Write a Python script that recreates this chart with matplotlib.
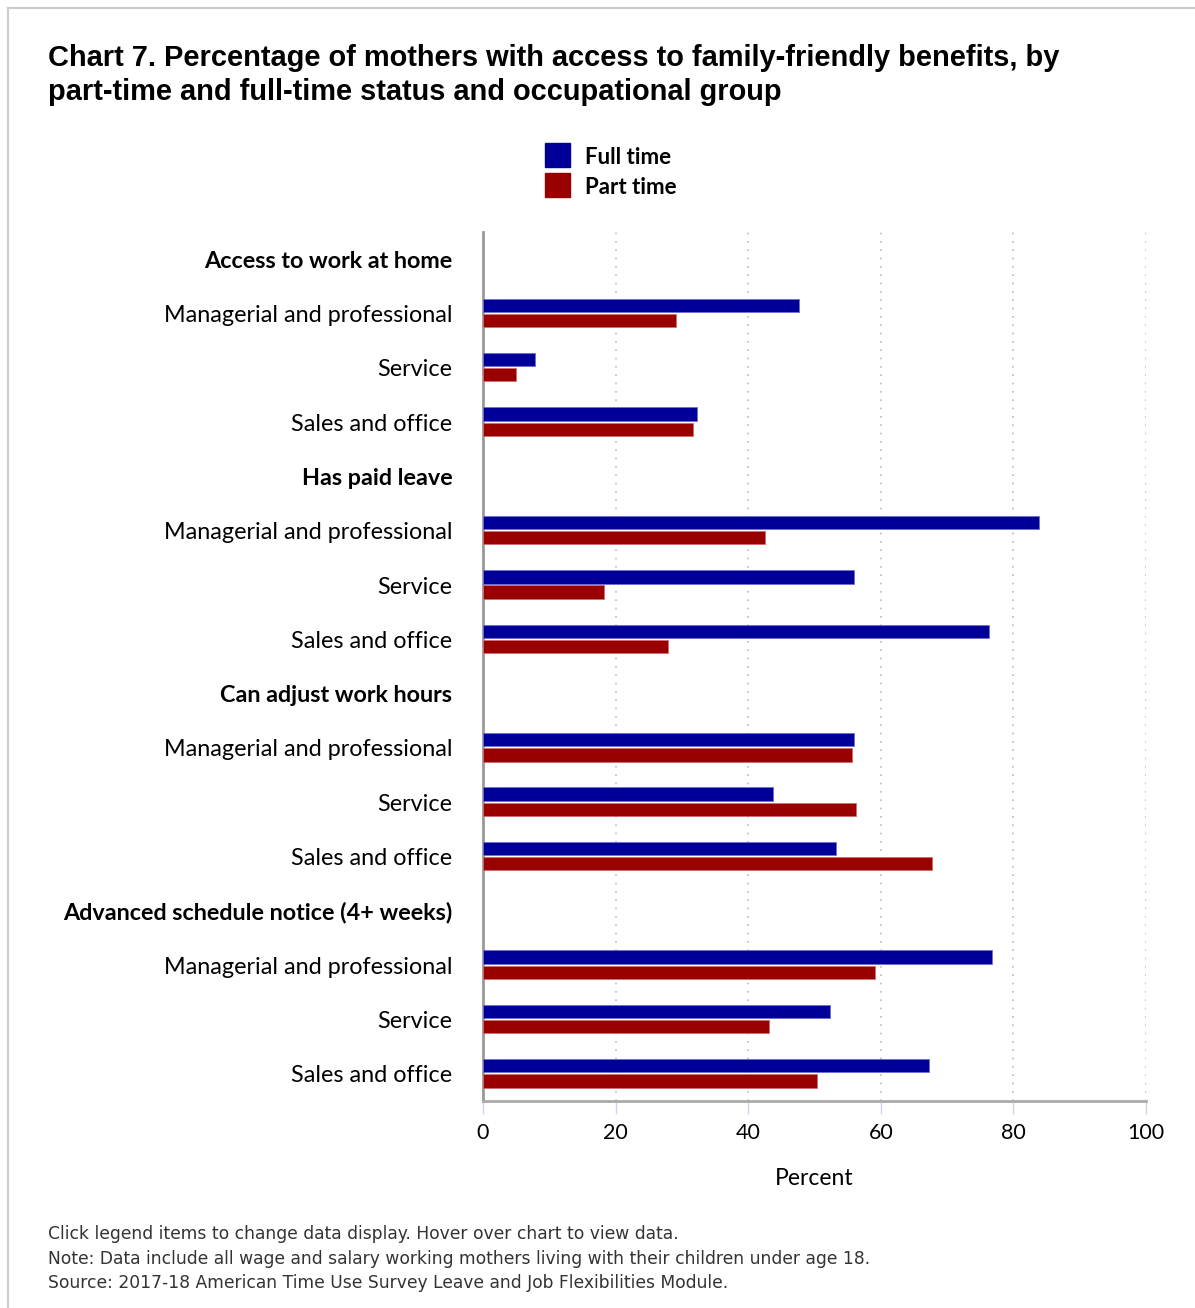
import matplotlib
matplotlib.use("Agg")
import matplotlib.pyplot as plt
from matplotlib.patches import Rectangle
from matplotlib.lines import Line2D
import numpy as np

groups = ["Access to work at home", "Has paid leave", "Can adjust work hours",
          "Advanced schedule notice (4+ weeks)"]
occupations = ["Managerial and professional", "Service", "Sales and office"]
full_time = [47.6, 7.8, 32.3, 83.9, 56.0, 76.3, 56.0, 43.8, 53.2, 76.7, 52.3, 67.3]
part_time = [29.1, 5.0, 31.6, 42.6, 18.2, 27.9, 55.7, 56.3, 67.7, 59.2, 43.2, 50.4]
x_ticks = [0, 20, 40, 60, 80, 100]

FT_COLOR = "#000099"
PT_COLOR = "#990000"
LABEL_FONT = "Lato"

# build the rows: one header row per group, then its occupations
labels = []
is_header = []
bar_rows = []
row = 0
for g in groups:
    labels.append(g)
    is_header.append(True)
    row += 1
    for o in occupations:
        labels.append(o)
        is_header.append(False)
        bar_rows.append(row)
        row += 1
bar_rows = np.array(bar_rows) + 0.5

W, H = 1195, 1308
fig = plt.figure(figsize=(W / 100, H / 100), dpi=100)
# light frame, top and left only
fig.lines.append(Line2D([8 / W, 1], [1 - 8 / H, 1 - 8 / H], transform=fig.transFigure,
                        color="#cccccc", linewidth=1.5))
fig.lines.append(Line2D([8 / W, 8 / W], [0, 1 - 8 / H], transform=fig.transFigure,
                        color="#cccccc", linewidth=1.5))

ax = fig.add_axes([483 / W, 1 - 1101 / H, (1146 - 483) / W, (1101 - 232) / H])

ax.barh(bar_rows - 0.15, full_time, height=0.245, color=FT_COLOR,
        edgecolor="#6f6fd0", linewidth=0.6, zorder=3)
ax.barh(bar_rows + 0.13, part_time, height=0.245, color=PT_COLOR,
        edgecolor="#d06f6f", linewidth=0.6, zorder=3)

ax.set_xlim(0, 100)
ax.set_ylim(len(labels), 0)
ax.set_xticks(x_ticks)
ax.set_xticklabels([str(t) for t in x_ticks], fontsize=15.5, family=LABEL_FONT)
ax.tick_params(axis="x", length=9, width=1, color="#ccd6eb", pad=7)
ax.set_yticks(np.arange(len(labels)) + 0.5)
ax.set_yticklabels(labels, fontsize=16.8, family=LABEL_FONT)
ax.tick_params(axis="y", length=0, pad=22)
for lab, h in zip(ax.get_yticklabels(), is_header):
    if h:
        lab.set_fontweight("bold")

for t in x_ticks[1:]:
    ax.axvline(t, color="#bbbbbb", linestyle=(0, (1, 4)), linewidth=1.2, zorder=1)

for s in ["top", "right"]:
    ax.spines[s].set_visible(False)
ax.spines["left"].set_color("#999999")
ax.spines["left"].set_linewidth(2)
ax.spines["bottom"].set_color("#aaaaaa")
ax.spines["bottom"].set_linewidth(2)

ax.set_xlabel("Percent", fontsize=16.5, family=LABEL_FONT, labelpad=18)

fig.text(48 / W, 1 - 75 / H, "Chart 7. Percentage of mothers with access to family-friendly benefits, by\n"
         "part-time and full-time status and occupational group",
         fontsize=20.9, fontweight="bold", family="Liberation Sans",
         va="center", ha="left", linespacing=1.25)

# legend
fig.patches.append(Rectangle((545 / W, 1 - 167 / H), 25 / W, 24 / H,
                             transform=fig.transFigure, color=FT_COLOR))
fig.patches.append(Rectangle((545 / W, 1 - 197 / H), 25 / W, 24 / H,
                             transform=fig.transFigure, color=PT_COLOR))
fig.text(585 / W, 1 - 158 / H, "Full time", fontsize=16, fontweight="bold",
         family=LABEL_FONT, va="center")
fig.text(585 / W, 1 - 188 / H, "Part time", fontsize=16, fontweight="bold",
         family=LABEL_FONT, va="center")

notes = ["Click legend items to change data display. Hover over chart to view data.",
         "Note: Data include all wage and salary working mothers living with their children under age 18.",
         "Source: 2017-18 American Time Use Survey Leave and Job Flexibilities Module."]
for i, n in enumerate(notes):
    fig.text(48 / W, 1 - (1234 + 24.5 * i) / H, n, fontsize=12.3, family="DejaVu Sans",
             color="#333333", va="center")

fig.savefig("out.png", dpi=100)
